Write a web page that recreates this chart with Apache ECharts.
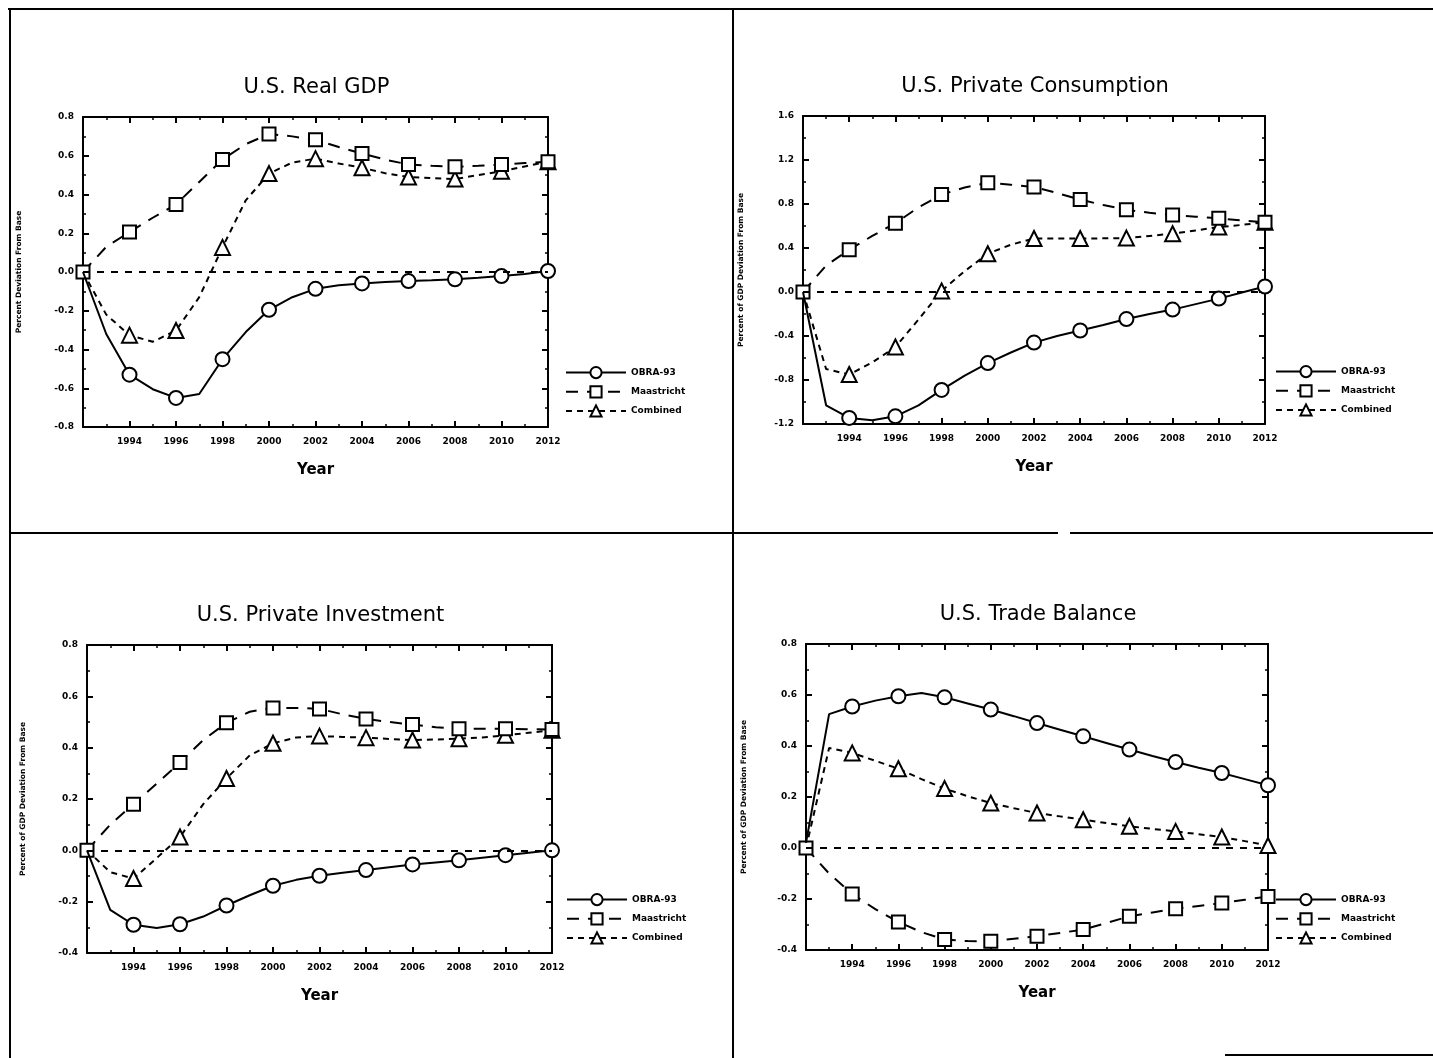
<!DOCTYPE html>
<html>
<head>
<meta charset="utf-8">
<script src="https://cdn.jsdelivr.net/npm/echarts@6/dist/echarts.min.js"></script>
<style>
html,body{margin:0;padding:0;background:#fff;}
#chart{width:1433px;height:1058px;}
</style>
</head>
<body>
<div id="chart"></div>
<script>
// ---- DATA ----
const years = [1992,1993,1994,1995,1996,1997,1998,1999,2000,2001,2002,2003,2004,2005,2006,2007,2008,2009,2010,2011,2012];
const seriesNames = ['OBRA-93','Maastricht','Combined'];
const panelTitles = ['U.S. Real GDP','U.S. Private Consumption','U.S. Private Investment','U.S. Trade Balance'];
const yAxisNames = ['Percent Deviation From Base','Percent of GDP Deviation From Base','Percent of GDP Deviation From Base','Percent of GDP Deviation From Base'];
const xTickLabels = [1994,1996,1998,2000,2002,2004,2006,2008,2010,2012];

const gdpObra       = [0,-0.32,-0.53,-0.605,-0.65,-0.63,-0.45,-0.31,-0.195,-0.13,-0.087,-0.068,-0.059,-0.052,-0.047,-0.043,-0.038,-0.03,-0.021,-0.01,0.005];
const gdpMaast      = [0,0.13,0.206,0.28,0.349,0.465,0.581,0.66,0.712,0.70,0.682,0.645,0.611,0.58,0.555,0.548,0.543,0.548,0.555,0.562,0.569];
const gdpComb       = [0,-0.22,-0.326,-0.36,-0.302,-0.13,0.127,0.37,0.508,0.565,0.585,0.56,0.538,0.51,0.49,0.485,0.48,0.50,0.52,0.545,0.569];

const consObra      = [0,-1.03,-1.145,-1.165,-1.13,-1.03,-0.89,-0.76,-0.646,-0.55,-0.46,-0.40,-0.35,-0.30,-0.246,-0.20,-0.16,-0.11,-0.06,-0.005,0.05];
const consMaast     = [0,0.24,0.385,0.51,0.625,0.77,0.886,0.95,0.994,0.975,0.954,0.90,0.84,0.79,0.748,0.72,0.70,0.685,0.67,0.65,0.634];
const consComb      = [0,-0.70,-0.75,-0.64,-0.5,-0.25,0.01,0.19,0.348,0.43,0.486,0.486,0.486,0.488,0.49,0.51,0.53,0.56,0.59,0.61,0.634];

const invObra       = [0,-0.232,-0.29,-0.303,-0.288,-0.258,-0.215,-0.175,-0.138,-0.115,-0.099,-0.087,-0.077,-0.066,-0.055,-0.047,-0.039,-0.029,-0.019,-0.009,0.0];
const invMaast      = [0,0.1,0.18,0.26,0.342,0.43,0.497,0.54,0.555,0.555,0.551,0.53,0.512,0.50,0.49,0.48,0.474,0.474,0.474,0.472,0.471];
const invComb       = [0,-0.085,-0.11,-0.03,0.052,0.18,0.28,0.37,0.417,0.44,0.445,0.442,0.439,0.434,0.43,0.432,0.435,0.44,0.448,0.458,0.468];

const tradeObra     = [0.02,0.525,0.555,0.578,0.595,0.608,0.591,0.567,0.543,0.517,0.49,0.464,0.438,0.412,0.386,0.361,0.337,0.315,0.294,0.27,0.246];
const tradeMaast    = [0,-0.1,-0.18,-0.24,-0.29,-0.33,-0.359,-0.365,-0.366,-0.356,-0.346,-0.333,-0.32,-0.294,-0.268,-0.253,-0.238,-0.227,-0.216,-0.203,-0.19];
const tradeComb     = [0,0.392,0.373,0.342,0.311,0.27,0.233,0.203,0.176,0.156,0.137,0.124,0.111,0.098,0.085,0.075,0.065,0.054,0.043,0.027,0.01];

const yRanges = [[-0.8,0.8,0.2],[-1.2,1.6,0.4],[-0.4,0.8,0.2],[-0.4,0.8,0.2]];
const baseLineValue = 0;

// ---- LAYOUT ----
const grids = [
  {left:83, top:117, width:465, height:310},
  {left:803, top:116, width:462, height:308},
  {left:87, top:645, width:465, height:308},
  {left:806, top:644, width:462, height:306}
];
const legendPos = [
  {left:560, top:361},
  {left:1270, top:360},
  {left:561, top:888},
  {left:1270, top:888}
];
const panelData = [
  [gdpObra, gdpMaast, gdpComb],
  [consObra, consMaast, consComb],
  [invObra, invMaast, invComb],
  [tradeObra, tradeMaast, tradeComb]
];

const FONT = 'DejaVu Sans';
const symbols = ['circle','rect','triangle'];
const symbolSizes = [14,13,15];
const dashTypes = ['solid',[12,9],[6,5]];

const option = {
  backgroundColor:'#fff',
  animation:false,
  title: [], legend: [], grid: [], xAxis: [], yAxis: [], series: [],
  graphic: []
};

grids.forEach((g,i)=>{
  option.grid.push({left:g.left, top:g.top, width:g.width, height:g.height, show:false, containLabel:false});
  option.title.push({
    text: panelTitles[i],
    left: g.left + g.width/2 - 4,
    top: g.top - 45,
    textAlign:'center',
    textStyle:{fontFamily:FONT, fontSize:21, fontWeight:'normal', color:'#000'}
  });
  option.legend.push({
    data: seriesNames,
    left: legendPos[i].left, top: legendPos[i].top,
    orient:'vertical', itemWidth:60, itemHeight:14, itemGap:6,
    textStyle:{fontFamily:FONT, fontSize:9, fontWeight:'bold', color:'#000'},
    selectedMode:false
  });
  const [ymin,ymax,yint] = yRanges[i];
  // bottom x
  option.xAxis.push({
    type:'value', gridIndex:i, min:1992, max:2012, interval:2, position:'bottom',
    axisLine:{show:true, onZero:false, lineStyle:{color:'#000', width:2}},
    axisTick:{show:true, inside:true, length:6, lineStyle:{color:'#000', width:2}},
    minorTick:{show:true, splitNumber:2, length:3, lineStyle:{color:'#000', width:1.5}},
    splitLine:{show:false},
    axisLabel:{fontFamily:FONT, fontSize:9, fontWeight:'bold', color:'#000', margin:10,
      formatter:(v)=> xTickLabels.indexOf(v) >= 0 ? String(v) : ''},
    name:'Year', nameLocation:'middle', nameGap:36,
    nameTextStyle:{fontFamily:FONT, fontSize:15, fontWeight:'bold', color:'#000'}
  });
  // top x (ticks only)
  option.xAxis.push({
    type:'value', gridIndex:i, min:1992, max:2012, interval:2, position:'top',
    axisLine:{show:true, onZero:false, lineStyle:{color:'#000', width:2}},
    axisTick:{show:true, inside:true, length:6, lineStyle:{color:'#000', width:2}},
    minorTick:{show:true, splitNumber:2, length:3, lineStyle:{color:'#000', width:1.5}},
    splitLine:{show:false}, axisLabel:{show:false}
  });
  // left y
  option.yAxis.push({
    type:'value', gridIndex:i, min:ymin, max:ymax, interval:yint, position:'left',
    axisLine:{show:true, onZero:false, lineStyle:{color:'#000', width:2}},
    axisTick:{show:true, inside:true, length:6, lineStyle:{color:'#000', width:2}},
    minorTick:{show:true, splitNumber:2, length:3, lineStyle:{color:'#000', width:1.5}},
    splitLine:{show:false},
    axisLabel:{fontFamily:FONT, fontSize:9, fontWeight:'bold', color:'#000', margin:9,
      formatter:(v)=> v.toFixed(1)},
    name: yAxisNames[i], nameLocation:'middle', nameRotate:90, nameGap:i%2===0?60:58,
    nameTextStyle:{fontFamily:FONT, fontSize:7.5, fontWeight:'bold', color:'#000'}
  });
  // right y (ticks only)
  option.yAxis.push({
    type:'value', gridIndex:i, min:ymin, max:ymax, interval:yint, position:'right',
    axisLine:{show:true, onZero:false, lineStyle:{color:'#000', width:2}},
    axisTick:{show:true, inside:true, length:6, lineStyle:{color:'#000', width:2}},
    minorTick:{show:true, splitNumber:2, length:3, lineStyle:{color:'#000', width:1.5}},
    splitLine:{show:false}, axisLabel:{show:false}
  });

  panelData[i].forEach((vals,k)=>{
    const s = {
      name: seriesNames[k], type:'line',
      xAxisIndex: i*2, yAxisIndex: i*2,
      data: years.map((y,j)=>{
        const hide = (y % 2 !== 0) || (y === 1992 && k !== 1);
        return hide ? {value:[y, vals[j]], symbol:'none'} : {value:[y, vals[j]]};
      }),
      symbol: symbols[k],
      symbolSize: symbolSizes[k],
      showAllSymbol:true,
      clip:false,
      lineStyle:{color:'#000', width:2, type:dashTypes[k]},
      itemStyle:{color:'#fff', borderColor:'#000', borderWidth:2},
      z: 3 - k
    };
    if (k === 0) {
      s.markLine = {
        silent:true, symbol:'none', label:{show:false},
        lineStyle:{color:'#000', width:2, type:[7,7]},
        data:[{yAxis: baseLineValue}]
      };
    }
    option.series.push(s);
  });
});

// frame lines
const frameLines = [
  [8,9,1433,9],
  [10,9,10,1058],
  [733,9,733,1058],
  [10,533,1058,533],
  [1070,533,1433,533],
  [1225,1055,1433,1055]
];
frameLines.forEach(l=>{
  option.graphic.push({type:'line', shape:{x1:l[0],y1:l[1],x2:l[2],y2:l[3]}, style:{stroke:'#000', lineWidth:2}, silent:true});
});

const chart = echarts.init(document.getElementById('chart'), null, {renderer:'canvas'});
chart.setOption(option);
</script>
</body>
</html>
